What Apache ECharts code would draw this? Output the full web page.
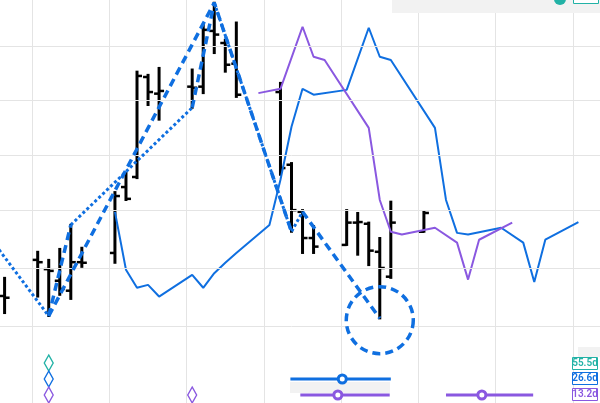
<!DOCTYPE html>
<html><head><meta charset="utf-8">
<script src="https://cdn.jsdelivr.net/npm/echarts@6/dist/echarts.min.js"></script>
<style>html,body{margin:0;padding:0;background:#fff;overflow:hidden;width:600px;height:403px}
#wrap{position:absolute;left:0;top:0;width:600px;height:403px;overflow:hidden}
#c{position:absolute;left:-23px;top:0;width:629px;height:403px}</style>
</head><body><div id="wrap"><div id="c"></div></div>
<script>
// ---------- data (day index, prices) ----------
const ohlcDays = [0, 3, 4, 5, 6, 7, 10, 11, 12, 13, 14, 17, 18, 19, 20, 21, 25, 26, 27, 28, 31, 32, 33, 34, 35, 38];
const opens  = [40.52, 41.14, 40.98, 40.78, 40.61, 41.10, 41.26, 42.42, 42.60, 44.43, 44.12, 44.25, 44.25, 45.30, 45.07, 44.68, 44.15, 42.82, 41.98, 41.52, 41.40, 41.79, 41.77, 41.28, 40.85, 41.63];
const highs  = [40.83, 41.28, 41.14, 41.33, 41.75, 41.35, 42.33, 42.67, 44.53, 44.47, 44.60, 44.57, 45.42, 45.84, 45.13, 45.46, 44.32, 42.85, 42.01, 41.73, 42.01, 41.96, 41.79, 41.52, 42.16, 41.98];
const lows   = [40.23, 40.51, 40.18, 40.54, 40.47, 41.02, 41.09, 42.19, 42.58, 43.91, 43.64, 43.86, 44.13, 44.88, 44.53, 44.06, 42.64, 41.63, 41.26, 41.26, 41.40, 41.23, 41.05, 40.14, 40.83, 41.63];
const closes = [40.49, 41.10, 40.95, 40.64, 41.10, 41.09, 42.26, 42.21, 44.45, 44.15, 44.17, 44.23, 45.32, 45.23, 44.66, 44.10, 42.76, 42.01, 41.52, 41.37, 41.79, 41.80, 41.30, 41.00, 41.79, 41.96];

const blueDays = [10, 11, 12, 13, 14, 17, 18, 19, 20, 21, 24, 25, 26, 27, 28, 31, 33, 34, 35, 39, 40, 41, 42, 45, 47, 48, 49, 52];
const blueVals = [41.98, 40.97, 40.66, 40.71, 40.51, 40.88, 40.66, 40.91, 41.09, 41.26, 41.75, 42.55, 43.51, 44.21, 44.10, 44.19, 45.36, 44.81, 44.75, 43.49, 42.19, 41.61, 41.58, 41.70, 41.44, 40.76, 41.49, 41.80];

const purpleDays = [23, 25, 27, 28, 29, 33, 34, 35, 36, 39, 41, 42, 43, 46];
const purpleVals = [44.13, 44.21, 45.38, 44.81, 44.75, 43.49, 42.19, 41.63, 41.58, 41.70, 41.44, 40.80, 41.49, 41.79];

// swing lines (pivots)
const swingDashedDays = [4, 19, 26];
const swingDashedVals = [40.18, 45.84, 41.63];
const swingDashed2Days = [27, 34];
const swingDashed2Vals = [41.98, 40.14];
const legUpADays = [4, 6];
const legUpAVals = [40.18, 41.75];
const legUpBDays = [17, 19];
const legUpBVals = [43.86, 45.84];
const dottedADays = [-2, 4];
const dottedAVals = [41.70, 40.18];
const dottedBDays = [6, 17];
const dottedBVals = [41.75, 43.86];
const dottedCDays = [19, 26, 27];
const dottedCVals = [45.84, 41.63, 41.98];

const circleDay = 34, circleVal = 40.11;

// horizontal price grid
const priceGrid = [40, 41, 42, 43, 44, 45];

// cycle markers: rows 2.5 = 55.5d, 1.5 = 26.6d, 0.5 = 13.2d
const cycleLabels = ['55.5d', '26.6d', '13.2d'];
const tealMarkDays = [4];
const blueMarkDays = [4];
const purpleMarkDays = [4, 17];
const blueRange = [25.9, 35.0];
const blueRangeMid = 30.6;
const purpleRange1 = [26.8, 34.9];
const purpleRange1Mid = 30.2;
const purpleRange2 = [40.0, 47.9];
const purpleRange2Mid = 43.25;

// ---------- chart ----------
const BLUE = '#0f6fe0', PURPLE = '#8a58e0', TEAL = '#22b2a6';
const OX = 23; // chart div is shifted left by this many px
const catDays = [];
for (let d = -2; d <= 54; d++) catDays.push(String(d));
const pairs = (ds, vs) => ds.map((d, i) => [d, vs[i]]);

const chart = echarts.init(document.getElementById('c'), null, {renderer: 'canvas'});

function lineSeries(ds, vs, color, width, type, z) {
  return {type: 'line', xAxisIndex: 1, yAxisIndex: 0, data: pairs(ds, vs), symbol: 'none',
    lineStyle: {color: color, width: width, type: type, opacity: 1}, z: z, silent: true, animation: false, clip: true};
}
function marks(data, yIdx, symbol, size, fill, stroke, bw, z, extra) {
  return {type: 'scatter', xAxisIndex: 1, yAxisIndex: yIdx, data: data, symbol: symbol, symbolSize: size, z: z, silent: true,
    itemStyle: Object.assign({color: fill, borderColor: stroke, borderWidth: bw, opacity: 1}, extra || {})};
}

const option = {
  animation: false,
  grid: {left: 0, right: 0, top: 0, bottom: 0, containLabel: false},
  xAxis: [
    {type: 'category', data: catDays, boundaryGap: true,
      axisLine: {show: false}, axisTick: {show: false}, axisLabel: {show: false},
      splitLine: {show: true, interval: (i, v) => ((Number(v) - 3) % 7 === 0), lineStyle: {color: '#e4e4e4', width: 1}}},
    {type: 'value', min: -2.5, max: 54.5, show: false, position: 'top'}
  ],
  yAxis: [
    {type: 'log', min: 38.736, max: 45.893, show: false, splitLine: {show: false}},
    {type: 'value', min: 0, max: 25.1875, show: false, splitLine: {show: false}}
  ],
  series: [
    {type: 'line', xAxisIndex: 1, yAxisIndex: 0, data: [], z: 0, silent: true,
      markLine: {silent: true, symbol: 'none', label: {show: false},
        lineStyle: {color: '#e4e4e4', width: 1, type: 'solid'},
        data: priceGrid.map(p => ({yAxis: p}))}},
    {type: 'custom', xAxisIndex: 1, yAxisIndex: 0, z: 3, silent: true,
      data: ohlcDays.map((d, i) => [d, opens[i], highs[i], lows[i], closes[i]]),
      encode: {x: 0, y: [1, 2, 3, 4]},
      renderItem: function (params, api) {
        const x = api.value(0);
        const pO = api.coord([x, api.value(1)]);
        const pH = api.coord([x, api.value(2)]);
        const pL = api.coord([x, api.value(3)]);
        const pC = api.coord([x, api.value(4)]);
        const st = {stroke: '#000', lineWidth: 3};
        const t = 5;
        return {type: 'group', children: [
          {type: 'line', shape: {x1: pH[0], y1: pH[1] - 1, x2: pL[0], y2: pL[1] + 1}, style: st},
          {type: 'line', shape: {x1: pO[0] - t, y1: pO[1], x2: pO[0], y2: pO[1]}, style: {stroke: '#000', lineWidth: 2.5}},
          {type: 'line', shape: {x1: pC[0], y1: pC[1], x2: pC[0] + t, y2: pC[1]}, style: {stroke: '#000', lineWidth: 2.5}}
        ]};
      }},
    lineSeries(blueDays, blueVals, BLUE, 2, 'solid', 4),
    lineSeries(purpleDays, purpleVals, PURPLE, 2, 'solid', 4),
    lineSeries(swingDashedDays, swingDashedVals, BLUE, 3.5, [8, 5], 5),
    lineSeries(swingDashed2Days, swingDashed2Vals, BLUE, 3.5, [8, 5], 5),
    lineSeries(legUpADays, legUpAVals, BLUE, 3.5, [8, 5], 5),
    lineSeries(legUpBDays, legUpBVals, BLUE, 3.5, [8, 5], 5),
    lineSeries(dottedADays, dottedAVals, BLUE, 3, [3, 2.5], 5),
    lineSeries(dottedBDays, dottedBVals, BLUE, 3, [3, 2.5], 5),
    lineSeries(dottedCDays, dottedCVals, BLUE, 3, [3, 2.5], 5),
    marks([[circleDay, circleVal]], 0, 'circle', 67, 'rgba(0,0,0,0)', BLUE, 3.5, 5, {borderType: [8, 5]}),
    // cycle markers
    marks(tealMarkDays.map(d => [d, 2.5]), 1, 'diamond', [9, 16], '#fff', TEAL, 1.4, 6),
    marks(blueMarkDays.map(d => [d, 1.5]), 1, 'diamond', [9, 16], '#fff', BLUE, 1.4, 6),
    marks(purpleMarkDays.map(d => [d, 0.5]), 1, 'diamond', [9, 16], '#fff', PURPLE, 1.4, 6),
    {type: 'line', xAxisIndex: 1, yAxisIndex: 1, data: blueRange.map(d => [d, 1.5]), symbol: 'none', z: 6, silent: true,
      lineStyle: {color: BLUE, width: 3}},
    {type: 'line', xAxisIndex: 1, yAxisIndex: 1, data: purpleRange1.map(d => [d, 0.5]), symbol: 'none', z: 6, silent: true,
      lineStyle: {color: PURPLE, width: 3}},
    {type: 'line', xAxisIndex: 1, yAxisIndex: 1, data: purpleRange2.map(d => [d, 0.5]), symbol: 'none', z: 6, silent: true,
      lineStyle: {color: PURPLE, width: 3}},
    marks([[blueRangeMid, 1.5]], 1, 'circle', 8, '#fff', BLUE, 3, 7),
    marks([[purpleRange1Mid, 0.5], [purpleRange2Mid, 0.5]], 1, 'circle', 8, '#fff', PURPLE, 3, 7)
  ],
  graphic: [
    {type: 'rect', shape: {x: OX + 392, y: 0, width: 208, height: 13}, style: {fill: '#f2f2f2'}, z: 1},
    {type: 'rect', shape: {x: OX + 290, y: 382, width: 100, height: 11}, style: {fill: '#f2f2f2'}, z: 1},
    {type: 'rect', shape: {x: OX + 578, y: 347, width: 22, height: 10}, style: {fill: '#f2f2f2'}, z: 1},
    {type: 'circle', shape: {cx: OX + 560, cy: -1, r: 6}, style: {fill: TEAL}, z: 10},
    {type: 'rect', shape: {x: OX + 573.5, y: -9.5, width: 25, height: 13}, style: {fill: '#fff', stroke: TEAL, lineWidth: 1}, z: 10},
    {type: 'text', x: OX + 586, y: -3, style: {text: cycleLabels[0], fill: TEAL, font: '600 10px Roboto', align: 'center', verticalAlign: 'middle'}, z: 11},
    {type: 'rect', shape: {x: OX + 572.5, y: 357.5, width: 25, height: 12}, style: {fill: '#fff', stroke: TEAL, lineWidth: 1}, z: 10},
    {type: 'text', x: OX + 585, y: 363.5, style: {text: cycleLabels[0], fill: TEAL, font: '600 10px Roboto', align: 'center', verticalAlign: 'middle'}, z: 11},
    {type: 'rect', shape: {x: OX + 572.5, y: 372.5, width: 25, height: 12}, style: {fill: '#fff', stroke: BLUE, lineWidth: 1}, z: 10},
    {type: 'text', x: OX + 585, y: 378.5, style: {text: cycleLabels[1], fill: BLUE, font: '600 10px Roboto', align: 'center', verticalAlign: 'middle'}, z: 11},
    {type: 'rect', shape: {x: OX + 572.5, y: 388.5, width: 25, height: 12}, style: {fill: '#fff', stroke: PURPLE, lineWidth: 1}, z: 10},
    {type: 'text', x: OX + 585, y: 394.5, style: {text: cycleLabels[2], fill: PURPLE, font: '600 10px Roboto', align: 'center', verticalAlign: 'middle'}, z: 11}
  ]
};
chart.setOption(option);
</script></body></html>
